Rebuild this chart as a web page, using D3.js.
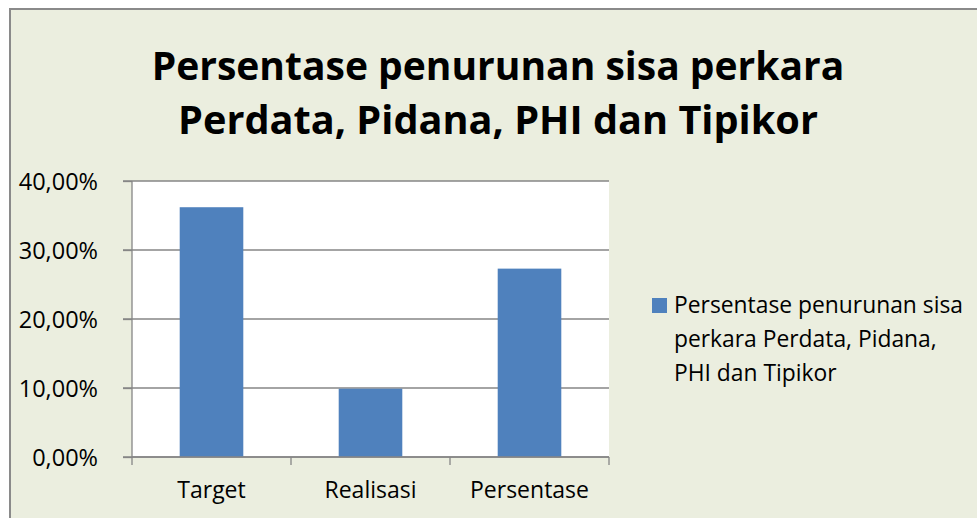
<!DOCTYPE html>
<html><head><meta charset="utf-8">
<script src="https://cdn.jsdelivr.net/npm/d3@7"></script>
<style>html,body{margin:0;padding:0;background:#fff;}svg{display:block;}</style>
</head><body>
<svg id="c" width="977" height="518"></svg>
<script>
const categories = ["Target", "Realisasi", "Persentase"];
const values = [0.362, 0.099, 0.273];
const yTicks = [0, 0.1, 0.2, 0.3, 0.4];
const titleLines = ["Persentase penurunan sisa perkara", "Perdata, Pidana, PHI dan Tipikor"];
const legendLines = ["Persentase penurunan sisa", "perkara Perdata, Pidana,", "PHI dan Tipikor"];

const font = "'Open Sans', 'Noto Sans', sans-serif";
const svg = d3.select("#c");
svg.append("rect").attr("x", 10).attr("y", 9).attr("width", 990).attr("height", 530)
  .attr("fill", "#ebeedf").attr("stroke", "#8a8a8a").attr("stroke-width", 2);

const L = 132, R = 609, T = 181, B = 457;
const x = d3.scaleBand().domain(categories).range([L, R]).paddingInner(0.6).paddingOuter(0.3);
const y = d3.scaleLinear().domain([0, 0.4]).range([B, T]);

svg.append("rect").attr("x", L).attr("y", T).attr("width", R - L).attr("height", B - T).attr("fill", "#fff");

// gridlines
svg.append("g").selectAll("line").data(yTicks).join("line")
  .attr("x1", L - 9).attr("x2", R).attr("y1", d => y(d)).attr("y2", d => y(d))
  .attr("stroke", "#868686").attr("stroke-width", 1.3);

// bars
svg.append("g").selectAll("rect").data(values).join("rect")
  .attr("x", (d, i) => x(categories[i])).attr("width", x.bandwidth())
  .attr("y", d => y(d)).attr("height", d => B - y(d)).attr("fill", "#4f81bd");

// fit helper: scale font so text width matches target
function fit(sel, base, target) {
  const w = sel.node().getComputedTextLength();
  sel.attr("font-size", base * target / w);
}

// y axis
const fmt = d => d3.format(".2f")(d * 100).replace(".", ",") + "%";
const ya = svg.append("g").attr("transform", `translate(${L},0)`)
  .call(d3.axisLeft(y).tickValues(yTicks).tickFormat(fmt).tickSize(9).tickPadding(25));
ya.select(".domain").attr("stroke", "#868686").attr("stroke-width", 1.3).attr("d", `M0,${T}V${B}`);
ya.selectAll(".tick line").attr("stroke", "#868686").attr("stroke-width", 1.3);
ya.selectAll("text").attr("font-family", font).attr("font-size", 23.5).attr("fill", "#000").attr("dy", "0.35em");

// x axis
const xa = svg.append("g").attr("transform", `translate(0,${B})`)
  .call(d3.axisBottom(x).tickSize(0).tickPadding(25));
xa.select(".domain").attr("stroke", "#868686").attr("stroke-width", 1.3).attr("d", `M${L},0H${R}`);
xa.selectAll("text").attr("font-family", font).attr("font-size", 23).attr("fill", "#000");
const step = (R - L) / categories.length;
svg.append("g").selectAll("line").data(d3.range(categories.length + 1)).join("line")
  .attr("x1", i => L + i * step).attr("x2", i => L + i * step)
  .attr("y1", B).attr("y2", B + 8).attr("stroke", "#868686").attr("stroke-width", 1.3);

// title
const tw = [693, 640];
titleLines.forEach((t, i) => {
  const el = svg.append("text").attr("x", 498).attr("y", 80 + i * 54)
    .attr("text-anchor", "middle").attr("font-family", font).attr("font-weight", "bold")
    .attr("font-size", 40).attr("fill", "#000").text(t);
  fit(el, 40, tw[i]);
});

// legend
svg.append("rect").attr("x", 652).attr("y", 298).attr("width", 15).attr("height", 15).attr("fill", "#4f81bd");
const lg = svg.append("g").selectAll("text").data(legendLines).join("text")
  .attr("x", 674).attr("y", (d, i) => 313 + i * 34)
  .attr("font-family", font).attr("font-size", 20).attr("fill", "#000").text(d => d);
fit(d3.select(lg.nodes()[0]), 20, 289);
lg.attr("font-size", d3.select(lg.nodes()[0]).attr("font-size"));
</script>
</body></html>
